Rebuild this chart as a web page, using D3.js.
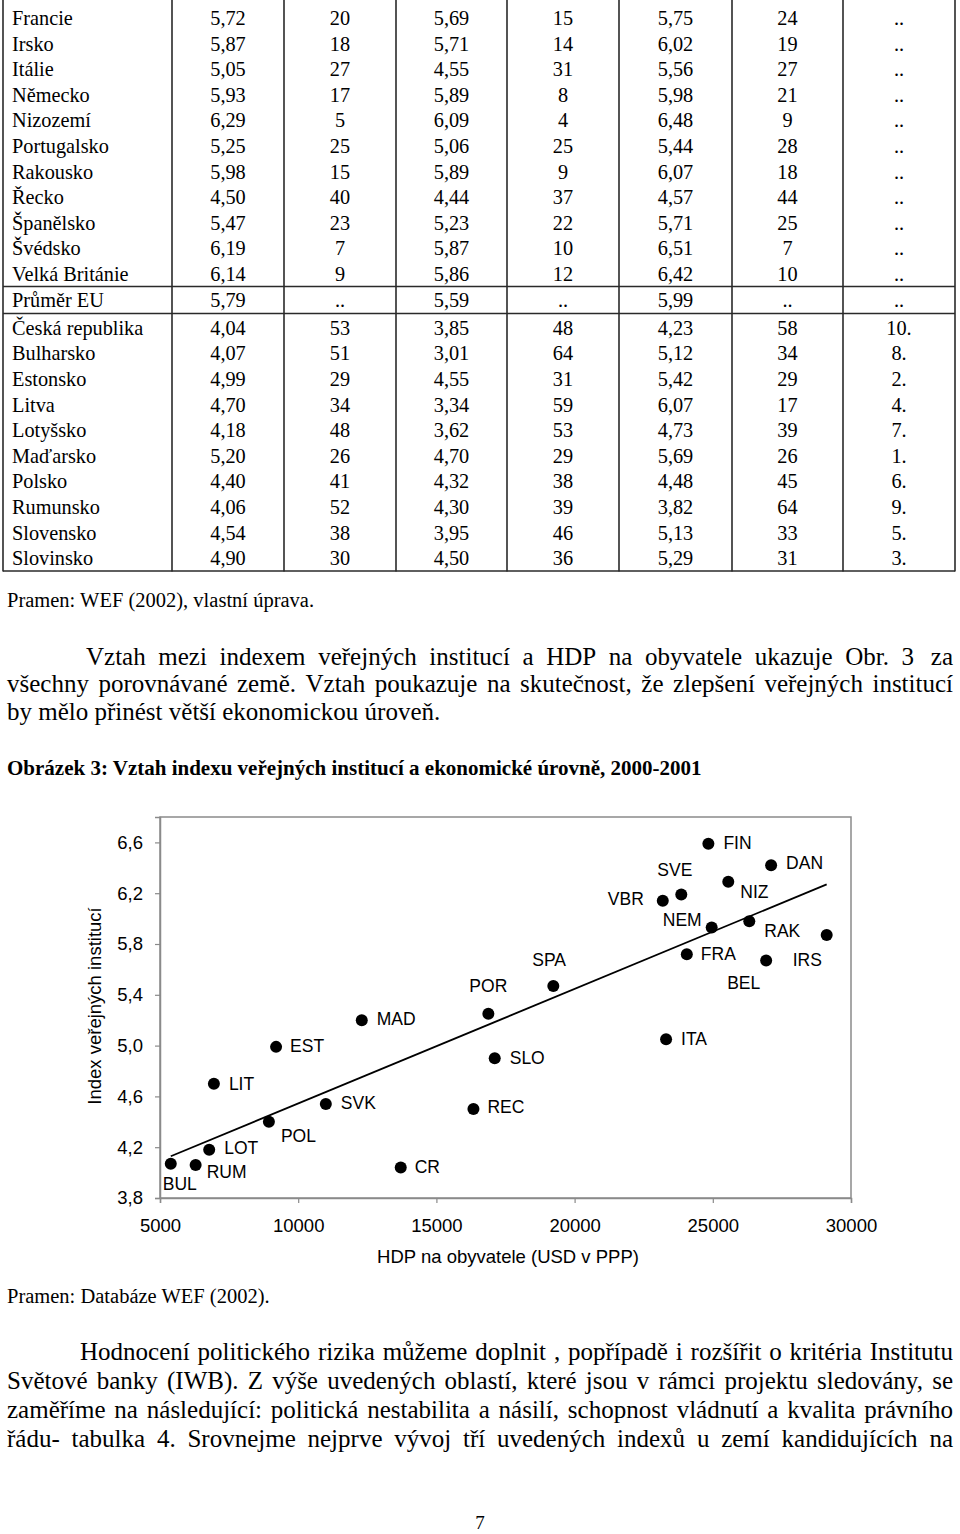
<!DOCTYPE html>
<html>
<head>
<meta charset="utf-8">
<script src="https://cdn.jsdelivr.net/npm/d3@7"></script>
<style>
  body { margin: 0; background: #fff; }
</style>
</head>
<body>
<script>
'use strict';

// table data (values kept as printed)
const tableNames = ["Francie", "Irsko", "Itálie", "Německo", "Nizozemí", "Portugalsko", "Rakousko",
  "Řecko", "Španělsko", "Švédsko", "Velká Británie", "Průměr EU", "Česká republika", "Bulharsko",
  "Estonsko", "Litva", "Lotyšsko", "Maďarsko", "Polsko", "Rumunsko", "Slovensko", "Slovinsko"];
const colIndex = ["5,72", "5,87", "5,05", "5,93", "6,29", "5,25", "5,98", "4,50", "5,47", "6,19", "6,14",
  "5,79", "4,04", "4,07", "4,99", "4,70", "4,18", "5,20", "4,40", "4,06", "4,54", "4,90"];
const colIndexRank = ["20", "18", "27", "17", "5", "25", "15", "40", "23", "7", "9",
  "..", "53", "51", "29", "34", "48", "26", "41", "52", "38", "30"];
const colA = ["5,69", "5,71", "4,55", "5,89", "6,09", "5,06", "5,89", "4,44", "5,23", "5,87", "5,86",
  "5,59", "3,85", "3,01", "4,55", "3,34", "3,62", "4,70", "4,32", "4,30", "3,95", "4,50"];
const colARank = ["15", "14", "31", "8", "4", "25", "9", "37", "22", "10", "12",
  "..", "48", "64", "31", "59", "53", "29", "38", "39", "46", "36"];
const colB = ["5,75", "6,02", "5,56", "5,98", "6,48", "5,44", "6,07", "4,57", "5,71", "6,51", "6,42",
  "5,99", "4,23", "5,12", "5,42", "6,07", "4,73", "5,69", "4,48", "3,82", "5,13", "5,29"];
const colBRank = ["24", "19", "27", "21", "9", "28", "18", "44", "25", "7", "10",
  "..", "58", "34", "29", "17", "39", "26", "45", "64", "33", "31"];
const colCand = ["..", "..", "..", "..", "..", "..", "..", "..", "..", "..", "..",
  "..", "10.", "8.", "2.", "4.", "7.", "1.", "6.", "9.", "5.", "3."];

// scatter data: country code, GDP per capita (USD PPP), index of public institutions
const pointCodes = ["FIN", "DAN", "SVE", "VBR", "NIZ", "NEM", "RAK", "IRS", "FRA", "BEL", "SPA", "POR",
  "ITA", "SLO", "REC", "MAD", "EST", "LIT", "SVK", "POL", "LOT", "RUM", "BUL", "CR"];
const gdpValues = [24840, 27110, 23860, 23190, 25560, 24960, 26320, 29120, 24060, 26930, 19230, 16880,
  23310, 17110, 16340, 12300, 9200, 6950, 11000, 8940, 6780, 6290, 5390, 13710];
const indexValues = [6.59, 6.42, 6.19, 6.14, 6.29, 5.93, 5.98, 5.87, 5.72, 5.67, 5.47, 5.25,
  5.05, 4.90, 4.50, 5.20, 4.99, 4.70, 4.54, 4.40, 4.18, 4.06, 4.07, 4.04];
const xTicks = [5000, 10000, 15000, 20000, 25000, 30000];
const yTicks = [3.8, 4.2, 4.6, 5.0, 5.4, 5.8, 6.2, 6.6];

// text of the page
const para1 = [
  "Vztah mezi indexem veřejných institucí a HDP na obyvatele ukazuje Obr. 3",
  "všechny porovnávané země. Vztah poukazuje na skutečnost, že zlepšení veřejných institucí",
  "by mělo přinést větší ekonomickou úroveň."
];
const para2 = [
  "Hodnocení politického rizika můžeme doplnit , popřípadě i rozšířit o kritéria Institutu",
  "Světové banky (IWB). Z výše uvedených oblastí, které jsou v rámci projektu sledovány, se",
  "zaměříme na následující: politická nestabilita a násilí, schopnost vládnutí a kvalita právního",
  "řádu- tabulka 4. Srovnejme nejprve vývoj tří uvedených indexů u zemí kandidujících na"
];

const SERIF = "'Liberation Serif', 'Times New Roman', serif";
const SANS = "'Liberation Sans', Arial, sans-serif";

const svg = d3.select('body').append('svg')
  .attr('width', 960)
  .attr('height', 1534)
  .style('display', 'block');

svg.append('rect').attr('width', 960).attr('height', 1534).attr('fill', '#fff');

drawTable();
drawTexts();
drawChart();

// table at the top of the page
function drawTable() {
  const g = svg.append('g');
  const edges = [3, 172, 284, 396, 507, 619, 732, 843, 955];
  const cols = [colIndex, colIndexRank, colA, colARank, colB, colBRank, colCand];
  const rowY = (i) => 18 + 25.6 * i + (i >= 12 ? 2.6 : 0);

  tableNames.forEach((name, i) => {
    g.append('text')
      .attr('x', 12)
      .attr('y', rowY(i) + 7)
      .style('font-family', SERIF)
      .style('font-size', '20.3px')
      .text(name);

    cols.forEach((col, c) => {
      g.append('text')
        .attr('x', (edges[c + 1] + edges[c + 2]) / 2)
        .attr('y', rowY(i) + 7)
        .attr('text-anchor', 'middle')
        .style('font-family', SERIF)
        .style('font-size', '20.3px')
        .text(col[i]);
    });
  });

  // vertical rules
  g.selectAll('.vline')
    .data(edges)
    .enter()
    .append('line')
      .attr('x1', (d) => d)
      .attr('x2', (d) => d)
      .attr('y1', 0)
      .attr('y2', 571.5)
      .attr('stroke', '#2a2a2a')
      .attr('stroke-width', 1.6);

  // horizontal rules around the EU average row and at the bottom
  g.selectAll('.hline')
    .data([286.5, 313.5, 571])
    .enter()
    .append('line')
      .attr('x1', 3)
      .attr('x2', 955)
      .attr('y1', (d) => d)
      .attr('y2', (d) => d)
      .attr('stroke', '#2a2a2a')
      .attr('stroke-width', 1.6);
}

// spread the words of a line between x0 and x1
function justifyLine(g, line, x0, x1, y, size, justify) {
  const words = line.split(' ');
  const texts = words.map((w) => g.append('text')
    .attr('y', y)
    .style('font-family', SERIF)
    .style('font-size', size + 'px')
    .text(w));
  const widths = texts.map((t) => t.node().getComputedTextLength());
  const space = size * 0.25;
  let gap = space;
  if (justify && words.length > 1) {
    gap = (x1 - x0 - d3.sum(widths)) / (words.length - 1);
  }
  let x = x0;
  texts.forEach((t, i) => {
    t.attr('x', x);
    x += widths[i] + gap;
  });
}

function drawTexts() {
  const g = svg.append('g').attr('fill', '#000');

  g.append('text')
    .attr('x', 7)
    .attr('y', 607)
    .style('font-family', SERIF)
    .style('font-size', '20.5px')
    .text('Pramen: WEF (2002), vlastní úprava.');

  justifyLine(g, para1[0], 86, 914, 665, 25, true);
  g.append('text')
    .attr('x', 953)
    .attr('y', 665)
    .attr('text-anchor', 'end')
    .style('font-family', SERIF)
    .style('font-size', '25px')
    .text('za');
  justifyLine(g, para1[1], 7, 953, 692, 25, true);
  justifyLine(g, para1[2], 7, 953, 720, 25, false);

  g.append('text')
    .attr('x', 7)
    .attr('y', 775)
    .style('font-family', SERIF)
    .style('font-size', '21px')
    .style('font-weight', 'bold')
    .text('Obrázek 3: Vztah indexu veřejných institucí a ekonomické úrovně, 2000-2001');

  g.append('text')
    .attr('x', 7)
    .attr('y', 1303)
    .style('font-family', SERIF)
    .style('font-size', '20.5px')
    .text('Pramen: Databáze WEF (2002).');

  justifyLine(g, para2[0], 80, 953, 1360, 25, true);
  justifyLine(g, para2[1], 7, 953, 1389, 25, true);
  justifyLine(g, para2[2], 7, 953, 1418, 25, true);
  justifyLine(g, para2[3], 7, 953, 1447, 25, true);

  g.append('text')
    .attr('x', 480)
    .attr('y', 1529)
    .attr('text-anchor', 'middle')
    .style('font-family', SERIF)
    .style('font-size', '19px')
    .text('7');
}

function drawChart() {
  const left = 160, right = 851, top = 817, bottom = 1198;
  const g = svg.append('g');

  const xScale = d3.scaleLinear().domain([5000, 30000]).range([left, right]);
  const yScale = d3.scaleLinear().domain([3.8, 6.8]).range([bottom, top]);

  // plot area frame
  g.append('rect')
    .attr('x', left)
    .attr('y', top)
    .attr('width', right - left)
    .attr('height', bottom - top)
    .attr('fill', 'none')
    .attr('stroke', '#8a8a8a')
    .attr('stroke-width', 1.5);

  const fmt = (d) => d3.format('.1f')(d).replace('.', ',');

  const yAxis = g.append('g')
    .attr('transform', `translate(${left},0)`)
    .call(d3.axisLeft(yScale).tickValues(yTicks).tickFormat(fmt).tickSize(5).tickPadding(12));
  const xAxis = g.append('g')
    .attr('transform', `translate(0,${bottom})`)
    .call(d3.axisBottom(xScale).tickValues(xTicks).tickFormat(d3.format('d')).tickSize(5).tickPadding(16));

  [xAxis, yAxis].forEach((ax) => {
    ax.select('.domain').attr('stroke', '#8a8a8a').attr('stroke-width', 1.5);
    ax.selectAll('.tick line').attr('stroke', '#8a8a8a').attr('stroke-width', 1.2);
    ax.selectAll('.tick text')
      .attr('fill', '#000')
      .style('font-family', SANS)
      .style('font-size', '18.5px');
  });

  // axis titles
  g.append('text')
    .attr('x', 508)
    .attr('y', 1263)
    .attr('text-anchor', 'middle')
    .style('font-family', SANS)
    .style('font-size', '18.5px')
    .text('HDP na obyvatele (USD v PPP)');

  g.append('text')
    .attr('transform', 'translate(101, 1006)rotate(-90)')
    .attr('text-anchor', 'middle')
    .style('font-family', SANS)
    .style('font-size', '18.5px')
    .text('Index veřejných institucí');

  // least squares trend line over the plotted range
  const points = pointCodes.map((code, i) => ({ code: code, x: gdpValues[i], y: indexValues[i] }));
  const mx = d3.mean(points, (d) => d.x);
  const my = d3.mean(points, (d) => d.y);
  const slope = d3.sum(points, (d) => (d.x - mx) * (d.y - my)) / d3.sum(points, (d) => (d.x - mx) ** 2);
  const xExt = d3.extent(points, (d) => d.x);
  const trend = xExt.map((x) => [x, my + slope * (x - mx)]);

  g.append('path')
    .datum(trend)
    .attr('fill', 'none')
    .attr('stroke', '#000')
    .attr('stroke-width', 1.8)
    .attr('d', d3.line().x((d) => xScale(d[0])).y((d) => yScale(d[1])));

  g.selectAll('.dot')
    .data(points)
    .enter()
    .append('circle')
      .attr('cx', (d) => xScale(d.x))
      .attr('cy', (d) => yScale(d.y))
      .attr('r', 6)
      .attr('fill', '#000');

  // label placement: [dx, dy to text centre, anchor]
  const labelOffsets = {
    FIN: [15, -1, 'start'], DAN: [15, -3, 'start'], SVE: [-24, -25, 'start'], VBR: [-19, -2, 'end'],
    NIZ: [12, 10, 'start'], NEM: [-10, -8, 'end'], RAK: [15, 10, 'start'], IRS: [-34, 25, 'start'],
    FRA: [14, 0, 'start'], BEL: [-39, 22, 'start'], SPA: [-21, -26, 'start'], POR: [-19, -28, 'start'],
    ITA: [15, -1, 'start'], SLO: [15, -1, 'start'], REC: [14, -2, 'start'], MAD: [15, -2, 'start'],
    EST: [14, -1, 'start'], LIT: [15, 0, 'start'], SVK: [15, -1, 'start'], POL: [12, 14, 'start'],
    LOT: [15, -2, 'start'], RUM: [11, 7, 'start'], BUL: [-8, 20, 'start'], CR: [14, -1, 'start']
  };

  g.selectAll('.label')
    .data(points)
    .enter()
    .append('text')
      .attr('x', (d) => xScale(d.x) + labelOffsets[d.code][0])
      .attr('y', (d) => yScale(d.y) + labelOffsets[d.code][1] + 6.3)
      .attr('text-anchor', (d) => labelOffsets[d.code][2])
      .style('font-family', SANS)
      .style('font-size', '17.5px')
      .text((d) => d.code);
}
</script>
</body>
</html>
